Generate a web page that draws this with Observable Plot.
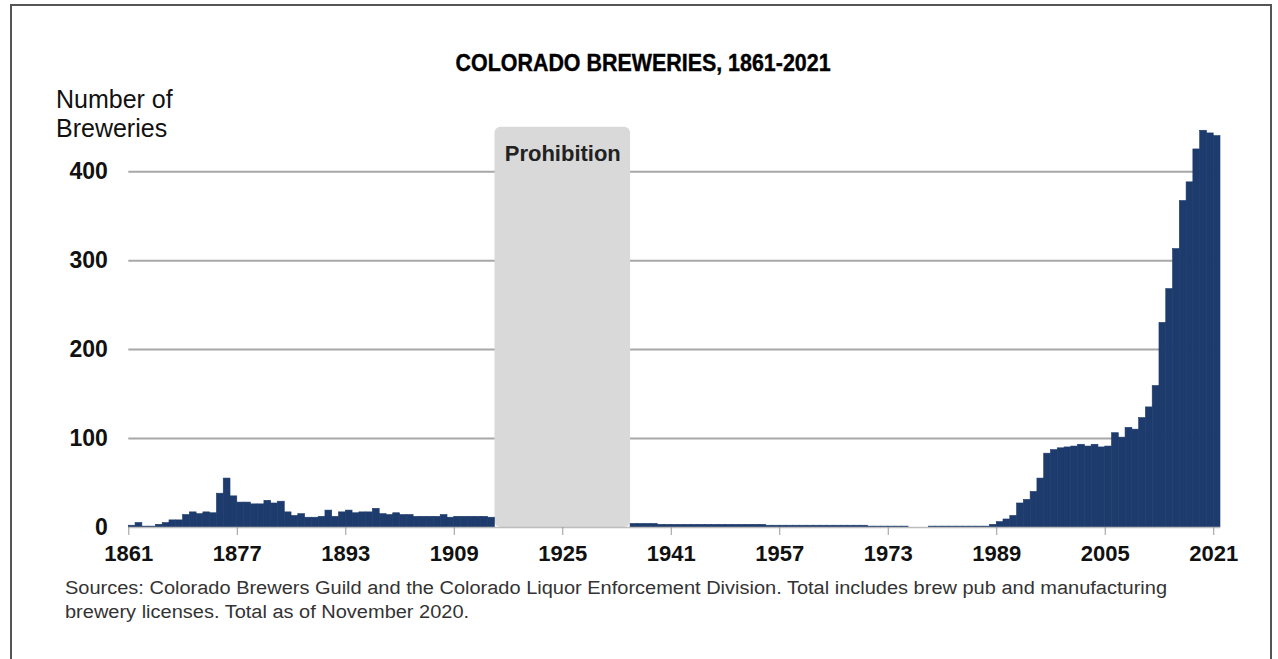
<!DOCTYPE html>
<html>
<head>
<meta charset="utf-8">
<script src="https://cdn.jsdelivr.net/npm/d3@7"></script>
<script src="https://cdn.jsdelivr.net/npm/@observablehq/plot@0.6"></script>
<style>
  html, body { margin: 0; padding: 0; background: #fff; }
  body { width: 1278px; height: 659px; overflow: hidden; position: relative; font-family: "Liberation Sans", Arial, sans-serif; }
  #frame { position: absolute; left: 10px; top: 4px; width: 1258px; height: 700px; border: 2px solid #555; box-sizing: content-box; }
  #title { position: absolute; left: 4px; top: 51px; width: 1278px; text-align: center; font-weight: bold; font-size: 24px; line-height: 1; color: #000; }
  #title span { display: inline-block; transform-origin: 50% 50%; white-space: nowrap; -webkit-text-stroke: 0.4px #000; }
  #ylabel { position: absolute; left: 56px; top: 85px; font-size: 25px; line-height: 28.7px; color: #111; }
  #chart { position: absolute; left: 0; top: 80px; }
  #caption { position: absolute; left: 65px; top: 576px; font-size: 18px; line-height: 24px; color: #333; transform-origin: 0 0; white-space: nowrap; }
  #caption span { display: inline-block; }
</style>
</head>
<body>
<div id="frame"></div>
<div id="title"><span id="titleText">COLORADO BREWERIES, 1861-2021</span></div>
<div id="ylabel">Number of<br>Breweries</div>
<div id="chart"></div>
<div id="caption"><span id="cap1">Sources: Colorado Brewers Guild and the Colorado Liquor Enforcement Division. Total includes brew pub and manufacturing</span><br><span>brewery licenses. Total as of November 2020.</span></div>
<script>
// Breweries per year, before Prohibition (1861–1914)
const preYears = d3.range(1861, 1915);
const preCounts = [2,5,1,1,3,5,8,8,14,17, 15,17,16,38,55,35,28,28,26,26,
                   30,27,29,17,13,15,11,11,12,19, 12,17,19,16,17,17,21,15,14,16,
                   14,14,12,12,12,12,14,11,12,12, 12,12,12,11];
// Breweries per year, after Prohibition (1935–2021)
const postYears = d3.range(1935, 2022);
const postCounts = [4,4,4,4,
                    3,3,3,3,3,3,3,3,3,3,3,3,3,3,3,3,
                    2,2,2,2,2,2,2,2,2,2,2,2,2,2,2,
                    1,1,1,1,1,1,
                    0,0,0,
                    1,1,1,1,1,1,1,1,1,
                    3,6,9,13,27,31,40,55,83,87,89,90,91,93,91,93,90,91,
                    106,101,112,110,123,135,159,230,268,313,367,388,425,446,443,440];
const prohibition = [{label: "Prohibition", start: 1915, end: 1935}];
const xTicks = [1861,1877,1893,1909,1925,1941,1957,1973,1989,2005,2021];
const yTicks = [0,100,200,300,400];

const data = preYears.map((y,i) => ({year: y, count: preCounts[i]}))
  .concat(postYears.map((y,i) => ({year: y, count: postCounts[i]})));

const navy = "#1d3b6c";

const chart = Plot.plot({
  width: 1278,
  height: 492,
  marginTop: 46.7,
  marginBottom: 45,
  marginLeft: 128.3,
  marginRight: 58,
  style: {fontFamily: "'Liberation Sans', Arial, sans-serif", color: "#111", background: "transparent"},
  x: {domain: [1861, 2022], label: null},
  y: {domain: [0, 450], label: null},
  marks: [
    Plot.ruleY(yTicks.filter(d => d > 0), {stroke: "#a8a8a8", strokeWidth: 2}),
    Plot.rect(prohibition, {x1: "start", x2: "end", y1: 0, y2: 450, fill: "#d9d9d9", rx: 6}),
    Plot.text(prohibition, {x: d => (d.start + d.end) / 2, y: 412, text: "label", lineAnchor: "bottom", fontSize: 22, fontWeight: "bold", fill: "#222"}),
    Plot.rectY(data, {x1: "year", x2: d => d.year + 1, y: "count", fill: navy, stroke: navy, strokeWidth: 0.6, inset: 0}),
    Plot.ruleY([0], {stroke: "#bdbdbd", strokeWidth: 1.5}),
    Plot.axisX({ticks: xTicks, tickFormat: d => String(d), tickSize: 8, tickPadding: 10, fontSize: 22, fontWeight: "bold", stroke: "#999", fill: "#111", label: null}),
    Plot.axisY({ticks: yTicks, tickSize: 0, tickPadding: 21, fontSize: 23, fontWeight: "bold", fill: "#111", label: null})
  ]
});
document.getElementById("chart").appendChild(chart);

// fit title and caption widths to the reference
const t = document.getElementById("titleText");
t.style.transform = `scaleX(${375 / t.getBoundingClientRect().width})`;
const cap = document.getElementById("caption");
const c1 = document.getElementById("cap1");
cap.style.transform = `scaleX(${1102 / c1.getBoundingClientRect().width})`;
</script>
</body>
</html>
